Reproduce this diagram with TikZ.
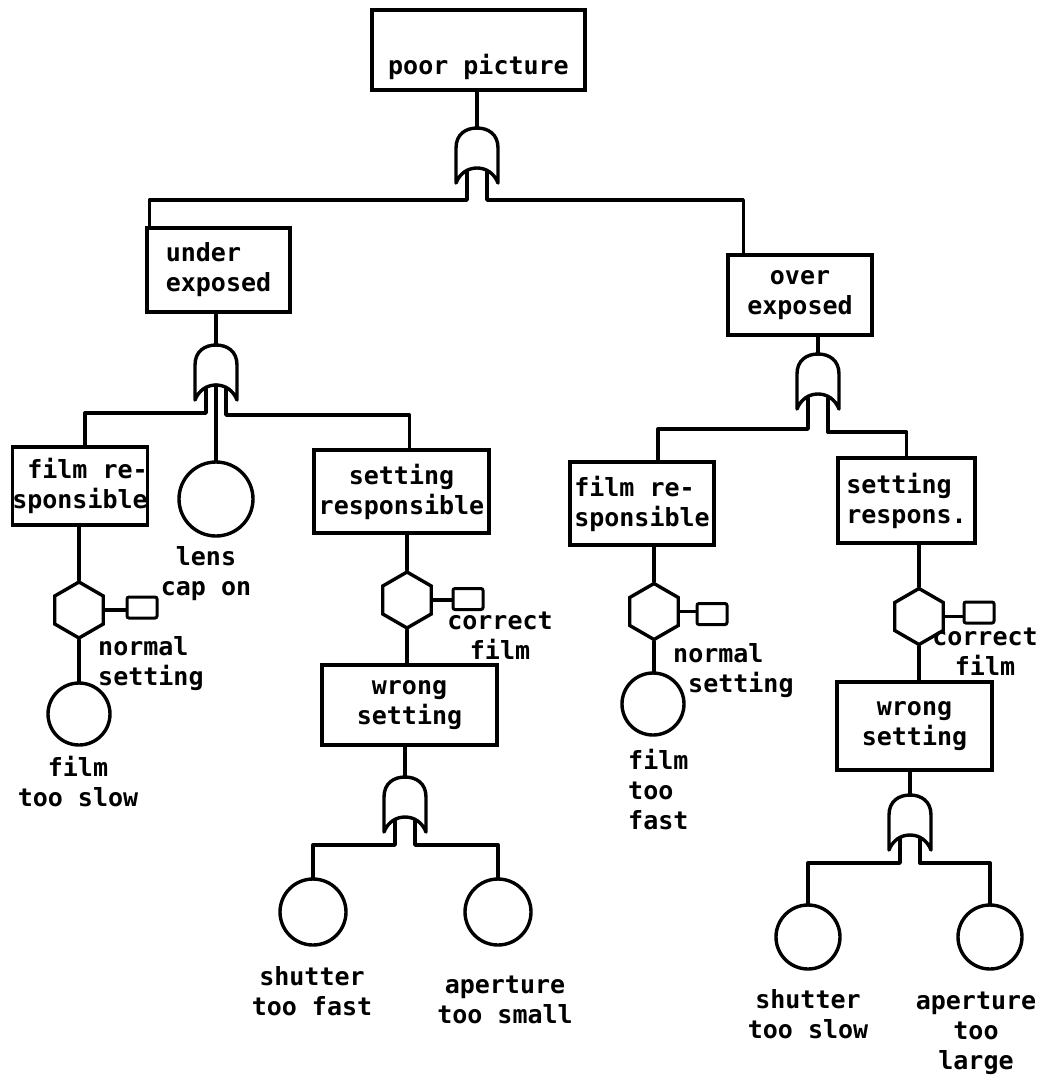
\documentclass[tikz,border=0pt]{standalone}
\usepackage{fontspec}
\usepackage{tikz}
\usetikzlibrary{shapes.geometric,calc}
\newfontfamily\printfont{DejaVu Sans Mono}
\tikzset{
  wire/.style    = {line width=3.4pt, line join=round, line cap=round},
  event/.style   = {draw, line width=3.4pt, inner sep=3pt,
                    font=\printfont\bfseries\fontsize{25}{30}\selectfont},
  basic/.style   = {draw, circle, line width=3.4pt, inner sep=0pt},
  inhibit/.style = {draw, line width=3.4pt, regular polygon, regular polygon sides=6,
                    shape border rotate=90, minimum size=56pt, inner sep=0pt},
  cond/.style    = {draw, line width=3pt, rounded corners=2pt, minimum width=30pt,
                    minimum height=21pt, inner sep=0pt},
  txt/.style     = {inner sep=0pt, align=center,
                    font=\printfont\bfseries\fontsize{25}{30}\selectfont},
  orgate/.pic    = {
    \draw[wire] (-21,55) -- (-21,20) .. controls (-21,6) and (-11,0) .. (0,0)
      .. controls (11,0) and (21,6) .. (21,20) -- (21,55)
      .. controls (17,45) and (9,40) .. (0,40)
      .. controls (-9,40) and (-17,45) .. (-21,55) -- cycle;
    \coordinate (-in) at (0,0);
    \coordinate (-l) at (-10,44);
    \coordinate (-m) at (0,40);
    \coordinate (-r) at (10,44);
  },
}

\begin{document}
\begin{tikzpicture}[x=1pt, y=-1pt]
\useasboundingbox (0,0) rectangle (1041,1077);

% top event
\node[event, minimum width=213pt, minimum height=80pt, text height=54pt] (top) at (478.5,50) {poor picture};
\pic (g1) at (477,128) {orgate};

% second level
\node[event, minimum width=143pt, minimum height=84pt, align=left] (under) at (218.5,270) {under\\exposed};
\node[event, minimum width=144pt, minimum height=80pt, align=center] (over) at (800,295) {over\\exposed};
\pic (g2) at (216,345) {orgate};
\pic (g4) at (818,354) {orgate};

% under exposed branch
\node[event, minimum width=134pt, minimum height=78pt, inner sep=0pt, align=left] (filmL) at (80,486) {\hspace*{15pt}film re-\\sponsible};
\node[basic, minimum size=74pt] (lens) at (216,499) {};
\node[txt] (lenstxt) at (206,574) {lens\\cap on};
\node[event, minimum width=175pt, minimum height=83pt, align=center] (setL) at (401.5,491.5) {setting\\responsible};

\node[inhibit] (hexL) at (79,610) {};
\node[cond] (condL) at (142,607.5) {};
\node[txt, anchor=west, align=left] (normL) at (98,664) {normal\\setting};
\node[basic, minimum size=62pt] (slow) at (79,714) {};
\node[txt] (slowtxt) at (78,782) {film\\too slow};

\node[inhibit] (hexSL) at (407,600) {};
\node[cond] (condSL) at (468,599) {};
\node[txt] (corrL) at (500,636) {correct\\film};
\node[event, minimum width=175pt, minimum height=80pt, align=center] (wrongL) at (409.5,705) {wrong\\setting};
\pic (g3) at (405,777) {orgate};
\node[basic, minimum size=66pt] (shutfast) at (313,912) {};
\node[txt] (shutfasttxt) at (312,991) {shutter\\too fast};
\node[basic, minimum size=66pt] (aprsmall) at (498,912) {};
\node[txt] (aprsmalltxt) at (505,1000) {aperture\\too small};

% over exposed branch
\node[event, minimum width=144pt, minimum height=83pt, align=left] (filmR) at (642,503.5) {film re-\\sponsible};
\node[event, minimum width=137pt, minimum height=85pt, align=left] (setR) at (906.5,500.5) {setting\\respons.};

\node[inhibit] (hexR) at (654,611.5) {};
\node[cond] (condR) at (712,614) {};
\node[txt, anchor=west, align=left] (normR) at (673,671) {normal\\\hspace*{15pt}setting};
\node[basic, minimum size=62pt] (fast) at (653,704) {};
\node[txt, anchor=west, align=left] (fasttxt) at (628,790) {film\\too\\fast};

\node[inhibit] (hexSR) at (919,616.5) {};
\node[cond] (condSR) at (979,612.5) {};
\node[txt] (corrR) at (985,652) {correct\\film};
\node[event, minimum width=155pt, minimum height=88pt, align=center] (wrongR) at (914.5,726) {wrong\\setting};
\pic (g5) at (910,795) {orgate};
\node[basic, minimum size=64pt] (shutslow) at (808,937) {};
\node[txt] (shutslowtxt) at (808,1014) {shutter\\too slow};
\node[basic, minimum size=64pt] (aprlarge) at (990,937) {};
\node[txt] (aprlargetxt) at (976,1033) {aperture\\too\\large};

% connectors
\draw[wire] (top.south -| g1-in) -- (g1-in);
\draw[wire] (g1-l) -- ++(0,28) -| ($(under.north west)+(4,0)$);
\draw[wire] (g1-r) -- ++(0,28) -| ($(over.north west)+(17,0)$);

\draw[wire] (under.south -| g2-in) -- (g2-in);
\draw[wire] (g2-l) -- ++(0,24) -| ($(filmL.north)+(5,0)$);
\draw[wire] (g2-m) -- (lens.north);
\draw[wire] (g2-r) -- ++(0,26) -| ($(setL.north)+(8,0)$);

\draw[wire] (over.south -| g4-in) -- (g4-in);
\draw[wire] (g4-l) -- ++(0,31) -| ($(filmR.north)+(16,0)$);
\draw[wire] (g4-r) -- ++(0,34) -| (setR.north);

\draw[wire] (filmL.south -| hexL.90) -- (hexL.90);
\draw[wire] (hexL.0) -- (hexL.0 -| condL.west);
\draw[wire] (hexL.-90) -- (slow.north);

\draw[wire] (setL.south -| hexSL.90) -- (hexSL.90);
\draw[wire] (hexSL.0) -- (hexSL.0 -| condSL.west);
\draw[wire] (hexSL.-90) -- (hexSL.-90 |- wrongL.north);
\draw[wire] (wrongL.south -| g3-in) -- (g3-in);
\draw[wire] (g3-l) -- ++(0,24) -| (shutfast.north);
\draw[wire] (g3-r) -- ++(0,24) -| (aprsmall.north);

\draw[wire] (filmR.south -| hexR.90) -- (hexR.90);
\draw[wire] (hexR.0) -- (hexR.0 -| condR.west);
\draw[wire] (hexR.-90) -- (hexR.-90 |- fast.north);

\draw[wire] (setR.south -| hexSR.90) -- (hexSR.90);
\draw[wire] (hexSR.0) -- (hexSR.0 -| condSR.west);
\draw[wire] (hexSR.-90) -- (hexSR.-90 |- wrongR.north);
\draw[wire] (wrongR.south -| g5-in) -- (g5-in);
\draw[wire] (g5-l) -- ++(0,24) -| (shutslow.north);
\draw[wire] (g5-r) -- ++(0,24) -| (aprlarge.north);
\end{tikzpicture}
\end{document}
